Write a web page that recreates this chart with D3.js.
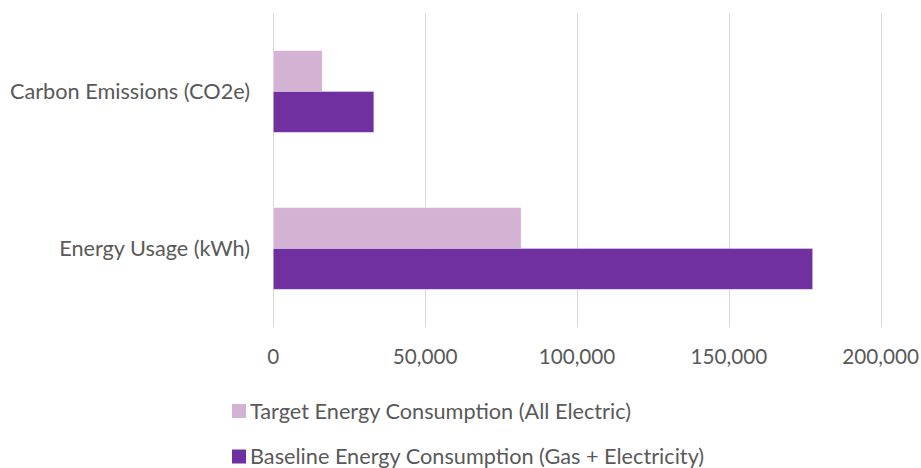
<!DOCTYPE html>
<html>
<head>
<meta charset="utf-8">
<script src="https://cdn.jsdelivr.net/npm/d3@7"></script>
<style>
  body { margin: 0; background: #fff; }
  text { font-family: Lato, "Open Sans", sans-serif; fill: #595959; }
</style>
</head>
<body>
<script>
// chart values
var categories = ['Carbon Emissions (CO2e)', 'Energy Usage (kWh)'];
var seriesNames = ['Target Energy Consumption (All Electric)', 'Baseline Energy Consumption (Gas + Electricity)'];
var targetValues = [16100, 81600];
var baselineValues = [33100, 177600];
var tickValues = [0, 50000, 100000, 150000, 200000];
var colors = ['#D4B2D4', '#7030A0'];

function drawChart(){
    var width = 921,
        height = 468;
    var svg = d3.select('body')
        .append('svg')
        .attr('width', width)
        .attr('height', height);

    // plot area
    var left = 273.3, right = 880.7, top = 13, bottom = 327;

    var x = d3.scaleLinear()
        .domain([0, 200000])
        .range([left, right]);
    var y = d3.scaleBand()
        .domain(categories)
        .range([top, bottom])
        .paddingInner(0.48)
        .paddingOuter(0.24);
    var ySub = d3.scaleBand()
        .domain([0, 1])
        .range([0, y.bandwidth()]);

    // gridlines
    svg.append('g')
        .selectAll('line')
        .data(tickValues)
        .enter()
        .append('line')
        .attr('x1', function(d){ return Math.round(x(d)) + 0.5; })
        .attr('x2', function(d){ return Math.round(x(d)) + 0.5; })
        .attr('y1', top)
        .attr('y2', bottom)
        .attr('stroke', '#d9d9d9')
        .attr('stroke-width', 1);

    // tick labels
    var fmt = d3.format(',');
    svg.append('g')
        .selectAll('text')
        .data(tickValues)
        .enter()
        .append('text')
        .attr('x', function(d){ return x(d); })
        .attr('y', 357)
        .attr('dy', '0.35em')
        .attr('text-anchor', 'middle')
        .style('font-size', '20.7px')
        .text(function(d){ return fmt(d); });

    // category labels
    svg.append('g')
        .selectAll('text')
        .data(categories)
        .enter()
        .append('text')
        .attr('x', 250)
        .attr('y', function(d){ return y(d) + y.bandwidth() / 2; })
        .attr('dy', '0.35em')
        .attr('text-anchor', 'end')
        .style('font-size', '21.7px')
        .text(function(d){ return d; });

    // bars
    var rows = categories.map(function(c, i){
        return [
            {cat: c, s: 0, v: targetValues[i]},
            {cat: c, s: 1, v: baselineValues[i]}
        ];
    });
    var flat = [].concat.apply([], rows);
    svg.append('g')
        .selectAll('rect')
        .data(flat)
        .enter()
        .append('rect')
        .attr('x', x(0))
        .attr('y', function(d){ return y(d.cat) + ySub(d.s); })
        .attr('width', function(d){ return x(d.v) - x(0); })
        .attr('height', ySub.bandwidth())
        .attr('fill', function(d){ return colors[d.s]; })
        .attr('stroke', 'rgba(255,255,255,0.45)')
        .attr('stroke-width', 0.75);

    // legend
    var legend = svg.append('g')
        .selectAll('g')
        .data(seriesNames)
        .enter()
        .append('g')
        .attr('transform', function(d, i){ return 'translate(232,' + (411 + i * 45.5) + ')'; });
    legend.append('rect')
        .attr('x', 0)
        .attr('y', -7)
        .attr('width', 14)
        .attr('height', 14)
        .attr('fill', function(d, i){ return colors[i]; });
    legend.append('text')
        .attr('x', 18)
        .attr('y', 0)
        .attr('dy', '0.35em')
        .style('font-size', '21.7px')
        .text(function(d){ return d; });
}

drawChart();
</script>
</body>
</html>
